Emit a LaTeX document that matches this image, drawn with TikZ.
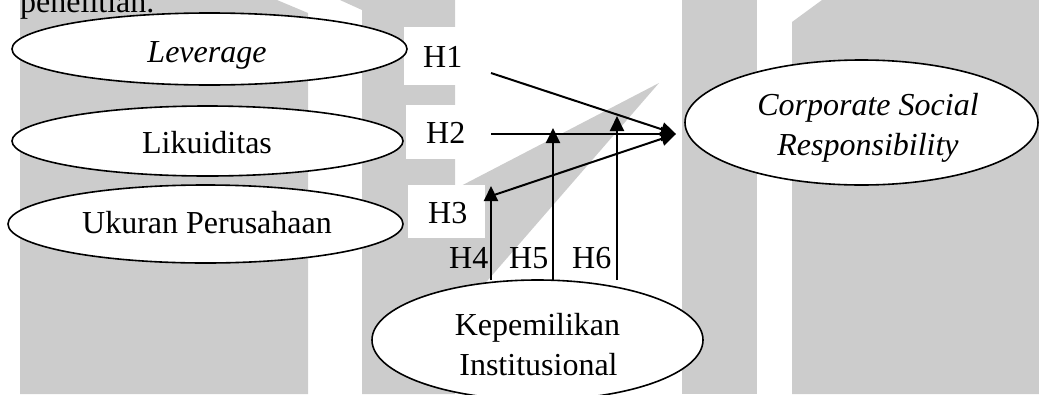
\documentclass[tikz,border=0pt]{standalone}
\usepackage{fontspec}
\setmainfont{Liberation Serif}
\usetikzlibrary{arrows.meta,shapes.geometric}
\definecolor{wmgray}{HTML}{CCCCCC}
\begin{document}
\begin{tikzpicture}[x=1pt,y=-1pt,
  var/.style={ellipse, draw, line width=1.6pt, fill=white, inner sep=0pt},
  lbl/.style={anchor=base, inner sep=0pt, font=\fontsize{32}{38}\selectfont},
  hyp/.style={anchor=base west, inner sep=0pt, font=\fontsize{32}{38}\selectfont},
  link/.style={line width=2pt, -{Triangle[length=15pt,width=14pt]}},
  wm/.style={fill=wmgray},
  hbox/.style={fill=white}]
\useasboundingbox (0,0) rectangle (1039,394);
\clip (0,0) rectangle (1039,394);

% background bars
\fill[wm] (20,0) -- (277,0) -- (308,13) -- (308,394) -- (20,394) -- cycle;
\fill[wm] (340,0) -- (455,0) -- (455,189) -- (659,83) -- (488,280) -- (455,318)
          -- (455,394) -- (362,394) -- (362,10) -- cycle;
\fill[wm] (682,0) rectangle (757,394);
\fill[wm] (822,0) -- (1039,0) -- (1039,394) -- (792,394) -- (792,22) -- cycle;

% text running above the figure
\node[hyp] (intro) at (20,12) {penelitian.};

% white panels behind the hypothesis labels
\fill[hbox] (404,27) rectangle (484,85);
\fill[hbox] (406,105) rectangle (486,159);
\fill[hbox] (408,185) rectangle (485,238);

% variables
\node[var, minimum width=395pt, minimum height=72pt] (lev) at (209.5,49) {};
\node[var, minimum width=391pt, minimum height=70pt] (lik) at (207.5,141) {};
\node[var, minimum width=395pt, minimum height=78pt] (uk) at (205.5,224) {};
\node[var, minimum width=353pt, minimum height=125pt] (csr) at (861.5,122.5) {};
\node[var, minimum width=331pt, minimum height=120pt] (kep) at (537.5,340) {};

\node[lbl] (levt) at (207,62) {\itshape Leverage};
\node[lbl] (likt) at (207,153) {Likuiditas};
\node[lbl] (ukt) at (207,233) {Ukuran Perusahaan};
\node[lbl] (csra) at (868,115) {\itshape Corporate Social};
\node[lbl] (csrb) at (868,155) {\itshape Responsibility};
\node[lbl] (kepa) at (537.5,335) {Kepemilikan};
\node[lbl] (kepb) at (538.5,375) {Institusional};

% hypothesis labels
\node[hyp] (H1) at (423,67) {H1};
\node[hyp] (H2) at (426,143) {H2};
\node[hyp] (H3) at (428,223) {H3};
\node[hyp] (H4) at (449,268) {H4};
\node[hyp] (H5) at (509,268) {H5};
\node[hyp] (H6) at (572,268) {H6};

% direct paths
\coordinate (tip) at (676,134);
\coordinate (p1) at (491,73);
\coordinate (p2) at (491,134);
\coordinate (p3) at (494,195);
\draw[link] (p1) -- (tip);
\draw[link] (p2) -- (tip);
\draw[link] (p3) -- (tip);

% moderating paths
\coordinate (m4) at (491,280);
\coordinate (m5) at (553,280);
\coordinate (m6) at (617,280);
\coordinate (t4) at (491,186);
\coordinate (t5) at (553,128);
\coordinate (t6) at (617,116);
\draw[link] (m4) -- (t4);
\draw[link] (m5) -- (t5);
\draw[link] (m6) -- (t6);
\end{tikzpicture}
\end{document}
